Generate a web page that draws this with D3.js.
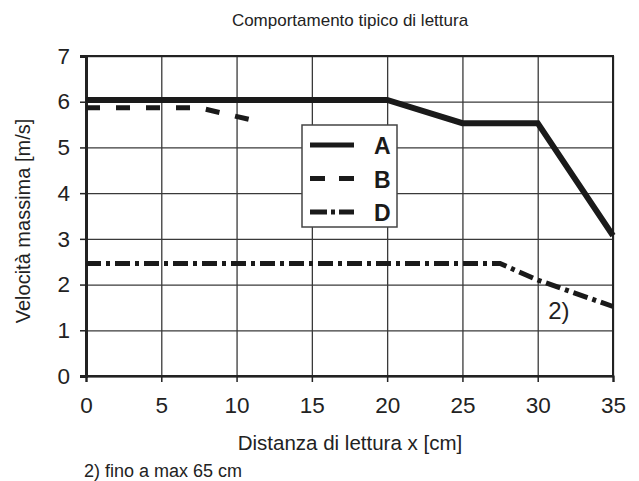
<!DOCTYPE html>
<html>
<head>
<meta charset="utf-8">
<script src="https://cdn.jsdelivr.net/npm/d3@7"></script>
<style>
  body { margin: 0; background: #fff; }
  svg { font-family: "Liberation Sans", Arial, sans-serif; }
</style>
</head>
<body>
<div id="chart"></div>
<script>
// data
var xTicks = [0, 5, 10, 15, 20, 25, 30, 35];
var yTicks = [0, 1, 2, 3, 4, 5, 6, 7];

var seriesNames = ["A", "B", "D"];
var seriesAx = [0, 20, 25, 30, 35];
var seriesAy = [6.04, 6.04, 5.53, 5.53, 3.07];
var seriesBx = [0, 7.5, 11];
var seriesBy = [5.87, 5.87, 5.6];
var seriesDx = [0, 27.5, 30, 35];
var seriesDy = [2.46, 2.46, 2.1, 1.52];

var width = 639,
    height = 481;
var margin = {left: 86, right: 26, top: 56, bottom: 105};
var w = width - margin.left - margin.right,
    h = height - margin.top - margin.bottom;
var FONT = '"Liberation Sans", Arial, sans-serif';

var svg = d3.select('#chart').append('svg')
  .attr('width', width)
  .attr('height', height);

var x = d3.scaleLinear().domain([0, 35]).range([0, w]);
var y = d3.scaleLinear().domain([0, 7]).range([h, 0]);

var g = svg.append('g')
  .attr('transform', `translate(${margin.left},${margin.top})`);

// grid
g.append('g')
  .attr('class', 'grid-x')
  .attr('transform', `translate(0,${h})`)
  .call(d3.axisBottom(x).tickValues(xTicks).tickSize(-h).tickFormat(''))
  .call(sel => sel.select('.domain').remove())
  .selectAll('line')
    .attr('stroke', '#3a3a3a')
    .attr('stroke-width', 1.3);

g.append('g')
  .attr('class', 'grid-y')
  .call(d3.axisLeft(y).tickValues(yTicks).tickSize(-w).tickFormat(''))
  .call(sel => sel.select('.domain').remove())
  .selectAll('line')
    .attr('stroke', '#3a3a3a')
    .attr('stroke-width', 1.3);

// frame (top/right)
g.append('rect')
  .attr('x', 0).attr('y', 0)
  .attr('width', w).attr('height', h)
  .attr('fill', 'none')
  .attr('stroke', '#222')
  .attr('stroke-width', 2);

// axes
var xAxis = g.append('g')
  .attr('transform', `translate(0,${h})`)
  .call(d3.axisBottom(x).tickValues(xTicks).tickSize(6).tickPadding(15).tickFormat(d3.format('d')));
xAxis.select('.domain').attr('stroke', '#222').attr('stroke-width', 2.2);
xAxis.selectAll('.tick line').attr('stroke', '#222').attr('stroke-width', 1.5);
xAxis.selectAll('text')
  .attr('font-size', 22.5)
  .attr('fill', '#222')
  .attr('font-family', FONT);

var yAxis = g.append('g')
  .call(d3.axisLeft(y).tickValues(yTicks).tickSize(6).tickPadding(10).tickFormat(d3.format('d')));
yAxis.select('.domain').attr('stroke', '#222').attr('stroke-width', 3);
yAxis.selectAll('.tick line').attr('stroke', '#222').attr('stroke-width', 1.5);
yAxis.selectAll('text')
  .attr('font-size', 22.5)
  .attr('fill', '#222')
  .attr('font-family', FONT);

// lines
var line = d3.line()
  .x(d => x(d[0]))
  .y(d => y(d[1]));

var styles = {
  A: {dash: null, width: 6},
  B: {dash: '14,16', width: 5},
  D: {dash: '15,5,4,5', width: 5}
};

var series = [
  {name: 'A', pts: d3.zip(seriesAx, seriesAy)},
  {name: 'B', pts: d3.zip(seriesBx, seriesBy)},
  {name: 'D', pts: d3.zip(seriesDx, seriesDy)}
];

g.selectAll('.series')
  .data(series)
  .enter().append('path')
  .attr('class', 'series')
  .attr('d', d => line(d.pts))
  .attr('fill', 'none')
  .attr('stroke', '#1a1a1a')
  .attr('stroke-width', d => styles[d.name].width)
  .attr('stroke-dasharray', d => styles[d.name].dash);

// note "2)"
g.append('text')
  .attr('x', x(30.7))
  .attr('y', y(1.25))
  .attr('font-size', 24)
  .attr('fill', '#222')
  .text('2)');

// legend
var legend = svg.append('g').attr('transform', 'translate(302,125)');
legend.append('rect')
  .attr('width', 95).attr('height', 102)
  .attr('fill', '#fff')
  .attr('stroke', '#444')
  .attr('stroke-width', 1.5);

var legendItems = legend.selectAll('.legend-item')
  .data(seriesNames)
  .enter().append('g')
  .attr('class', 'legend-item')
  .attr('transform', (d, i) => `translate(0,${20 + i * 33.5})`);

legendItems.append('line')
  .attr('x1', 8).attr('x2', 52)
  .attr('stroke', '#1a1a1a')
  .attr('stroke-width', 5)
  .attr('stroke-dasharray', d => d === 'A' ? null : (d === 'B' ? '15,14' : '17,4,4,4'));

legendItems.append('text')
  .attr('x', 72)
  .attr('y', 9)
  .attr('font-size', 23)
  .attr('font-weight', 'bold')
  .attr('fill', '#1a1a1a')
  .text(d => d);

// titles
svg.append('text')
  .attr('x', 350).attr('y', 26)
  .attr('text-anchor', 'middle')
  .attr('font-size', 17)
  .attr('fill', '#222')
  .text('Comportamento tipico di lettura');

svg.append('text')
  .attr('x', 350).attr('y', 450)
  .attr('text-anchor', 'middle')
  .attr('font-size', 20.5)
  .attr('fill', '#222')
  .text('Distanza di lettura x [cm]');

svg.append('text')
  .attr('transform', 'translate(30,221) rotate(-90)')
  .attr('text-anchor', 'middle')
  .attr('font-size', 20)
  .attr('fill', '#222')
  .text('Velocità massima [m/s]');

svg.append('text')
  .attr('x', 84).attr('y', 477)
  .attr('font-size', 18)
  .attr('fill', '#222')
  .text('2) fino a max 65 cm');
</script>
</body>
</html>
